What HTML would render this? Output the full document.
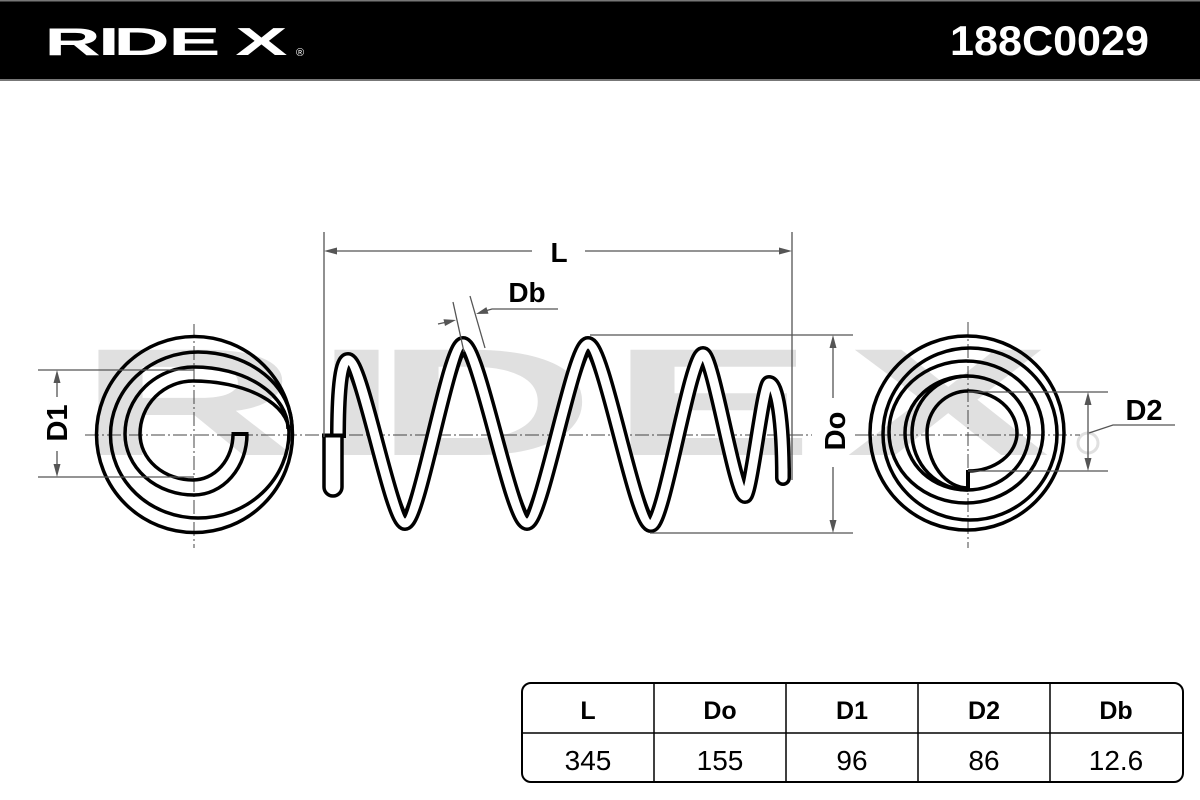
<!DOCTYPE html>
<html>
<head>
<meta charset="utf-8">
<style>
  html,body{margin:0;padding:0;background:#fff;}
  body{width:1200px;height:800px;overflow:hidden;}
  svg{display:block;}
  .lbl{font-family:"Liberation Sans",sans-serif;font-weight:bold;fill:#000;}
</style>
</head>
<body>
<svg width="1200" height="800" viewBox="0 0 1200 800" xmlns="http://www.w3.org/2000/svg">
  <!-- background -->
  <rect x="0" y="0" width="1200" height="800" fill="#fff"/>

  <!-- watermark -->
  <g transform="scale(2,1)">
    <text x="39 157 187 305 423" y="455" font-family="Liberation Sans, sans-serif" font-weight="bold" font-size="153" fill="#e0e0e0">RIDEX</text>
  </g>
  <circle cx="1088" cy="443" r="10" fill="none" stroke="#e0e0e0" stroke-width="3"/>

  <!-- header band -->
  <rect x="0" y="0" width="1200" height="80" fill="#000"/>
  <rect x="0" y="0" width="1200" height="1.5" fill="#777"/>
  <rect x="0" y="79" width="1200" height="2" fill="#777"/>
  <g transform="scale(2,1)">
    <text x="22.2 49 56.7 84.2 117.7" y="55" font-family="Liberation Sans, sans-serif" font-weight="bold" font-size="39" fill="#fff">RIDEX</text>
  </g>
  <text x="296" y="56" font-family="Liberation Sans, sans-serif" font-size="11" fill="#fff">®</text>
  <text x="950" y="55" font-family="Liberation Sans, sans-serif" font-weight="bold" font-size="42" fill="#fff" textLength="199" lengthAdjust="spacingAndGlyphs">188C0029</text>

  <!-- centerlines -->
  <g stroke="#444" stroke-width="1" stroke-dasharray="14 3 2 3" fill="none">
    <line x1="85" y1="435" x2="812" y2="435"/>
    <line x1="855" y1="435" x2="1080" y2="435"/>
    <line x1="194" y1="324" x2="194" y2="548"/>
    <line x1="968" y1="322" x2="968" y2="548"/>
  </g>

  <!-- LEFT END VIEW -->
  <g fill="none" stroke="#000" stroke-width="3.5">
    <circle cx="194.5" cy="434.5" r="98"/>
    <path d="M 233 434 A 40 46 0 0 1 193 480 A 53 46 0 0 1 140 434 A 53 53 0 0 1 193 381 A 96 51 0 0 1 289 432 A 91 86 0 0 1 198 518 A 87.5 83 0 0 1 110.5 435 A 87.5 83 0 0 1 198 352 A 94 76 0 0 1 292 428"/>
    <path d="M 247 434 A 53 61 0 0 1 194 495 A 69 61 0 0 1 125 434 A 69 67 0 0 1 194 367 A 94 62 0 0 1 288 429"/>
  </g>
  <rect x="231.5" y="432" width="17" height="4" fill="#000"/>

  <!-- RIGHT END VIEW -->
  <g fill="none" stroke="#000" stroke-width="3.5">
    <circle cx="967" cy="433" r="97"/>
    <ellipse cx="970" cy="434" rx="87" ry="86"/>
    <ellipse cx="966" cy="432" rx="77" ry="71"/>
    <ellipse cx="967" cy="433" rx="62" ry="57"/>
    <path d="M 968 490 A 56 57 0 0 1 912 433 A 56 57 0 0 1 968 376"/>
    <path d="M 968 471 A 49 38 0 0 0 1017 433 A 49 42 0 0 0 968 391 A 41 42 0 0 0 927 433 A 41 55 0 0 0 968 488"/>
    <line x1="968" y1="470" x2="968" y2="491" stroke-width="4"/>
  </g>

  <!-- SIDE VIEW SPRING -->
  <g fill="none" stroke-linejoin="round">
    <path d="M 338 438 C 338 400 340 360 348 360 C 362 360 391 523 405 523 C 419.5 523 448.5 344 463 344 C 479 344 511 523 527 523 C 542 523 573 344 588 344 C 604 344 635 525 651 525 C 664 525 690 354 703 354 C 713 354 735 496 745 496 C 751 496 763 383 769 383 C 777 383 783 420 783 478" stroke="#000" stroke-width="16" stroke-linecap="butt"/>
    <path d="M 783 470 L 783 478" stroke="#000" stroke-width="16" stroke-linecap="round"/>
    <path d="M 338 438 C 338 400 340 360 348 360 C 362 360 391 523 405 523 C 419.5 523 448.5 344 463 344 C 479 344 511 523 527 523 C 542 523 573 344 588 344 C 604 344 635 525 651 525 C 664 525 690 354 703 354 C 713 354 735 496 745 496 C 751 496 763 383 769 383 C 777 383 783 420 783 478" stroke="#fff" stroke-width="9" stroke-linecap="butt"/>
    <path d="M 783 470 L 783 478" stroke="#fff" stroke-width="9" stroke-linecap="round"/>
  </g>
  <!-- hook at left end -->
  <path d="M 324 437 L 324 487 A 9 9 0 0 0 342 487 L 342 437" fill="#fff" stroke="#000" stroke-width="3.5"/>
  <rect x="322" y="433.5" width="22" height="4" fill="#000"/>

  <!-- DIMENSIONS -->
  <g stroke="#555" stroke-width="1.3" fill="none">
    <!-- L -->
    <line x1="324" y1="232" x2="324" y2="437"/>
    <line x1="792" y1="232" x2="792" y2="480"/>
    <line x1="330" y1="251" x2="532" y2="251"/>
    <line x1="585" y1="251" x2="786" y2="251"/>
    <!-- Db -->
    <line x1="453" y1="302" x2="464" y2="352"/>
    <line x1="470" y1="296" x2="485" y2="348"/>
    <line x1="438" y1="324" x2="446" y2="322.3"/>
    <polyline points="486,310.7 492,309 558,309"/>
    <!-- Do -->
    <line x1="590" y1="335" x2="853" y2="335"/>
    <line x1="650" y1="533" x2="853" y2="533"/>
    <line x1="833" y1="340" x2="833" y2="398"/>
    <line x1="833" y1="467" x2="833" y2="528"/>
    <!-- D1 -->
    <line x1="38" y1="370" x2="194" y2="370"/>
    <line x1="38" y1="477" x2="194" y2="477"/>
    <line x1="57" y1="375" x2="57" y2="397"/>
    <line x1="57" y1="451" x2="57" y2="472"/>
    <!-- D2 -->
    <line x1="968" y1="392" x2="1108" y2="392"/>
    <line x1="968" y1="471" x2="1108" y2="471"/>
    <line x1="1088" y1="397" x2="1088" y2="466"/>
    <polyline points="1089,433 1113,425 1175,425"/>
  </g>
  <g fill="#555">
    <polygon points="324,251 337,247.5 337,254.5"/>
    <polygon points="792,251 779,247.5 779,254.5"/>
    <polygon points="456,320 445,326 443.5,319.2"/>
    <polygon points="476,314 488.5,313.8 486.4,307.1"/>
    <polygon points="833,335 829.5,348 836.5,348"/>
    <polygon points="833,533 829.5,520 836.5,520"/>
    <polygon points="57,370 53.5,383 60.5,383"/>
    <polygon points="57,477 53.5,464 60.5,464"/>
    <polygon points="1088,392 1084.5,405 1091.5,405"/>
    <polygon points="1088,471 1084.5,458 1091.5,458"/>
  </g>

  <!-- dimension labels -->
  <text class="lbl" x="559" y="262" font-size="28" text-anchor="middle">L</text>
  <text class="lbl" x="527" y="302" font-size="28" text-anchor="middle">Db</text>
  <text class="lbl" x="1144" y="420" font-size="29" text-anchor="middle">D2</text>
  <text class="lbl" font-size="29" text-anchor="middle" transform="translate(845,431) rotate(-90)">Do</text>
  <text class="lbl" font-size="29" text-anchor="middle" transform="translate(67,423) rotate(-90)">D1</text>

  <!-- TABLE -->
  <g fill="none" stroke="#000">
    <rect x="522" y="683" width="661" height="99" rx="9" ry="9" stroke-width="2"/>
    <line x1="522" y1="733" x2="1183" y2="733" stroke-width="1.5"/>
    <line x1="654" y1="683" x2="654" y2="782" stroke-width="1.5"/>
    <line x1="786" y1="683" x2="786" y2="782" stroke-width="1.5"/>
    <line x1="918" y1="683" x2="918" y2="782" stroke-width="1.5"/>
    <line x1="1050" y1="683" x2="1050" y2="782" stroke-width="1.5"/>
  </g>
  <g font-family="Liberation Sans, sans-serif" font-size="25" text-anchor="middle" fill="#000">
    <text x="588" y="719" font-weight="bold">L</text>
    <text x="720" y="719" font-weight="bold">Do</text>
    <text x="852" y="719" font-weight="bold">D1</text>
    <text x="984" y="719" font-weight="bold">D2</text>
    <text x="1116" y="719" font-weight="bold">Db</text>
  </g>
  <g font-family="Liberation Sans, sans-serif" font-size="28" text-anchor="middle" fill="#000">
    <text x="588" y="770">345</text>
    <text x="720" y="770">155</text>
    <text x="852" y="770">96</text>
    <text x="984" y="770">86</text>
    <text x="1116" y="770">12.6</text>
  </g>
</svg>
</body>
</html>
